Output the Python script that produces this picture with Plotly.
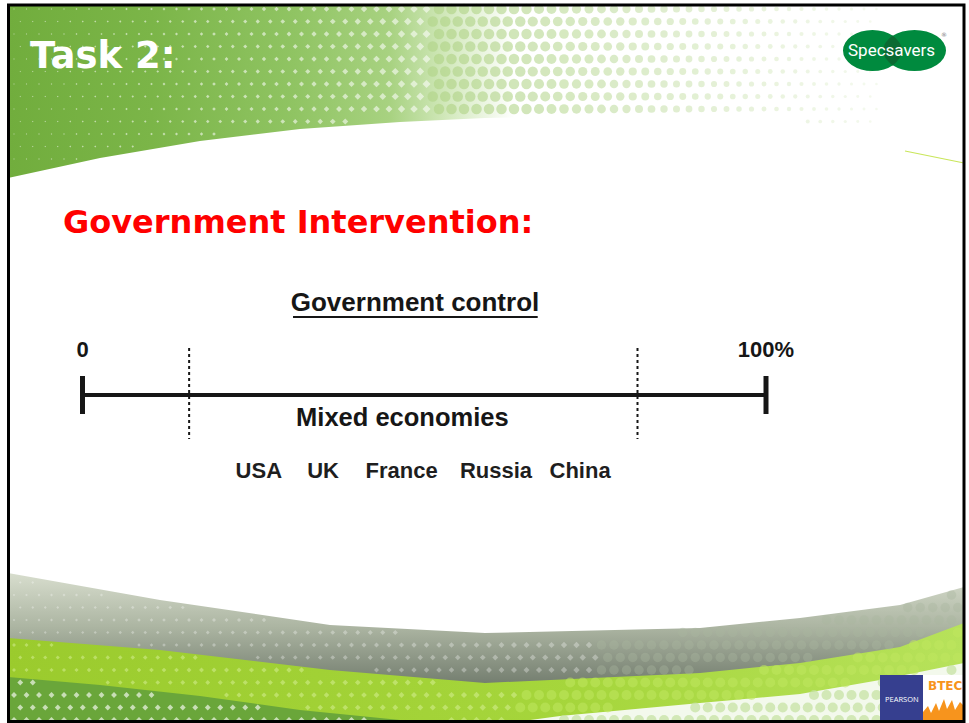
import numpy as np
import plotly.graph_objects as go

# ---------------- data ----------------
scale_ends = [0, 100]                 # % government control
scale_labels = ["0", "100%"]
mixed_bounds = [15.6, 81.2]           # dotted limits of the mixed-economy zone
mixed_label = ["Mixed economies"]
mixed_label_pos = [46.8]
countries = ["USA", "UK", "France", "Russia", "China"]
country_pos = [25.8, 35.2, 46.7, 60.5, 72.8]
axis_title = ["Government control"]
axis_title_pos = [48.65]
slide_title = "Task 2:"
heading = "Government Intervention:"

# ---------------- geometry / style ----------------
W, H = 969, 723
PX0, PXS = 82.5, 6.835          # pixel of 0 %, pixels per percentage point
TXT = "#161616"
ARIAL = "Liberation Sans, Arial, sans-serif"
VERD = "DejaVu Sans, Verdana, sans-serif"


def hx(c):
    c = c.lstrip("#")
    return np.array([int(c[i:i + 2], 16) for i in (0, 2, 4)], float)


def mix(c1, c2, t):
    t = min(max(t, 0.0), 1.0)
    v = hx(c1) * (1 - t) + hx(c2) * t
    return "#%02x%02x%02x" % tuple(int(round(a)) for a in v)


# background band outlines (pixels)
TOP_X = [8, 100, 200, 300, 400, 485, 600, 700, 800, 900, 964]
TOP_Y = [178, 158, 141, 129, 122, 118, 116, 118, 125, 137, 148]
GRAY_X = [8, 160, 330, 485, 700, 800, 900, 964]
GRAY_Y = [573, 600, 625, 633, 628, 618, 605, 587]
LIME_Y = [638, 650, 670, 683, 673, 663, 647, 623]
DK_X = [8, 100, 200, 300, 400, 485, 530]
DK_Y = [677, 685, 696, 710, 720, 726, 732]
WR_X = [470, 560, 700, 800, 880, 964]
WR_Y = [728, 716, 703, 694, 680, 663]

fig = go.Figure()


def poly(xs, ys, **kw):
    fig.add_trace(go.Scatter(x=xs, y=ys, xaxis="x", yaxis="y", mode="lines",
                             fill="toself", line=dict(width=0),
                             hoverinfo="skip", showlegend=False, **kw))


# top green swoosh
tx = [8, 964] + TOP_X[::-1]
ty = [5, 5] + TOP_Y[::-1]
poly(tx, ty, fillgradient=dict(type="horizontal", start=8, stop=964, colorscale=[
    [0.0, "#71ad3d"], [0.15, "#7bb548"], [0.30, "#90c463"], [0.40, "#a8d281"],
    [0.46, "#d3e9bd"], [0.53, "#ffffff"], [1.0, "#ffffff"]]))

# bottom bands
poly(GRAY_X + [964, 8], GRAY_Y + [723, 723],
     fillgradient=dict(type="vertical", start=575, stop=690, colorscale=[
         [0, "#d6dccc"], [0.45, "#acb5a2"], [1, "#6e786a"]]))
poly(GRAY_X + [964, 8], LIME_Y + [723, 723],
     fillgradient=dict(type="horizontal", start=8, stop=964, colorscale=[
         [0, "#9bcb2d"], [0.6, "#a6d63c"], [1, "#b7e25b"]]))
poly(DK_X + [530, 8], DK_Y + [723, 723], fillcolor="#6aa63a")
poly(WR_X + [964, 470], WR_Y + [723, 723], fillcolor="#f3f9ec")

# halftone texture
step = 12.5
px, py, ps, pc, psym = [], [], [], [], []
for j, y in enumerate(np.arange(9, 185, step)):
    off = step / 2 if j % 2 else 0
    for x in np.arange(14 + off, 960, step):
        b = np.interp(x, TOP_X, TOP_Y)
        if y > b - 4:
            continue
        if x < 432:
            s = np.interp(x, [20, 150, 300, 432], [1.0, 2.0, 3.8, 6.2])
            px.append(x); py.append(y); ps.append(s)
            pc.append("rgba(255,255,255,0.8)"); psym.append("diamond")
        elif x < 880:
            s = np.interp(x, [432, 520, 640, 760, 880], [10.5, 10.5, 8, 5, 2.5])
            px.append(x); py.append(y); ps.append(s)
            pc.append(mix("#b3d58b", "#f0f7e8", (x - 440) / 440)); psym.append("circle")
for j, y in enumerate(np.arange(570, 722, step)):
    off = step / 2 if j % 2 else 0
    for x in np.arange(14 + off, 962, step):
        g = np.interp(x, GRAY_X, GRAY_Y)
        lm = np.interp(x, GRAY_X, LIME_Y)
        d = np.interp(x, DK_X, DK_Y)
        w = np.interp(x, WR_X, WR_Y) if x >= 470 else 9999
        if y < g + 4:
            continue
        if y < lm - 3:
            if x < 600:
                px.append(x); py.append(y); ps.append(np.interp(x, [10, 600], [2, 5]))
                pc.append("rgba(255,255,255,0.45)"); psym.append("diamond")
            else:
                px.append(x); py.append(y); ps.append(9.5)
                pc.append("rgba(170,182,160,0.55)"); psym.append("circle")
        elif lm + 3 < y < min(d, w) - 3:
            if x < 520:
                px.append(x); py.append(y); ps.append(np.interp(x, [10, 520], [3, 5]))
                pc.append("rgba(215,240,150,0.75)"); psym.append("diamond")
            else:
                px.append(x); py.append(y); ps.append(10)
                pc.append("rgba(190,230,95,0.8)"); psym.append("circle")
        elif y > d + 3 and x < 500:
            px.append(x); py.append(y); ps.append(4.5)
            pc.append("rgba(255,255,255,0.9)"); psym.append("diamond")
        elif y > w + 3:
            px.append(x); py.append(y); ps.append(10)
            pc.append("#c3e1a0"); psym.append("circle")

fig.add_trace(go.Scatter(x=px, y=py, xaxis="x", yaxis="y", mode="markers",
                         marker=dict(size=ps, color=pc, symbol=psym, line=dict(width=0)),
                         hoverinfo="skip", showlegend=False))

# thin lime streak top right
fig.add_trace(go.Scatter(x=[905, 964], y=[151, 163], xaxis="x", yaxis="y", mode="lines",
                         line=dict(color="#c9e65a", width=1.2), hoverinfo="skip",
                         showlegend=False))

# ---------------- diagram (percentage axis x2) ----------------
def pct(**kw):
    fig.add_trace(go.Scatter(xaxis="x2", yaxis="y", hoverinfo="skip", showlegend=False, **kw))


pct(x=scale_ends, y=[395, 395], mode="lines", line=dict(color=TXT, width=4))
pct(x=[scale_ends[0], scale_ends[0], None, scale_ends[1], scale_ends[1]],
    y=[376, 414, None, 376, 414], mode="lines", line=dict(color=TXT, width=5))
pct(x=[mixed_bounds[0], mixed_bounds[0], None, mixed_bounds[1], mixed_bounds[1]],
    y=[348, 439, None, 348, 439], mode="lines",
    line=dict(color=TXT, width=2, dash="3px,3px"))
pct(x=scale_ends, y=[351, 351], mode="text", text=scale_labels,
    textfont=dict(family=ARIAL, size=22, color=TXT, weight="bold"))
pct(x=axis_title_pos, y=[304], mode="text", text=axis_title,
    textfont=dict(family=ARIAL, size=26, color=TXT, weight="bold"))
pct(x=mixed_label_pos, y=[419.5], mode="text", text=mixed_label,
    textfont=dict(family=ARIAL, size=25.5, color=TXT, weight="bold"))
pct(x=country_pos, y=[472] * len(countries), mode="text", text=countries,
    textfont=dict(family=ARIAL, size=22, color="#1e1e1e", weight="bold"))

shapes = [
    # underline of the axis title
    dict(type="line", xref="x2", yref="y", x0=30.8, x1=66.6, y0=317, y1=317,
         line=dict(color=TXT, width=2)),
    # Specsavers logo
    dict(type="circle", xref="x", yref="y", x0=843, x1=902, y0=30, y1=71,
         fillcolor="#008a3e", line=dict(width=0)),
    dict(type="circle", xref="x", yref="y", x0=883, x1=946, y0=30, y1=71,
         fillcolor="#008a3e", line=dict(width=0)),
    dict(type="path", xref="x", yref="y",
         path="M 892.7,35.6 Q 873.3,50.5 892.7,65.4 Q 911.3,50.5 892.7,35.6 Z",
         fillcolor="#0b6a32", line=dict(width=0)),
    # Pearson / BTEC
    dict(type="rect", xref="x", yref="y", x0=880, x1=923, y0=675, y1=721,
         fillcolor="#363f8f", line=dict(width=0)),
    dict(type="rect", xref="x", yref="y", x0=923, x1=964, y0=675, y1=721,
         fillcolor="#ffffff", line=dict(width=0)),
    dict(type="path", xref="x", yref="y",
         path="M 923,721 L 923,712 L 928,706 L 931,713 L 936,703 L 939,711 L 944,699 "
              "L 947,709 L 952,700 L 955,710 L 960,702 L 964,706 L 964,721 Z",
         fillcolor="#f7941d", line=dict(width=0)),
    # slide frame
    dict(type="rect", xref="x", yref="y", x0=8.5, x1=964, y0=5, y1=721.5,
         line=dict(color="#000000", width=3), fillcolor="rgba(0,0,0,0)"),
]

annotations = [
    dict(x=28, y=55, xref="x", yref="y", text=slide_title, showarrow=False,
         xanchor="left", yanchor="middle",
         font=dict(family=VERD, size=37, color="#ffffff", weight="bold")),
    dict(x=61, y=222, xref="x", yref="y", text=heading, showarrow=False,
         xanchor="left", yanchor="middle",
         font=dict(family=VERD, size=32, color="#ff0000", weight="bold")),
    dict(x=891, y=50, xref="x", yref="y", text="Specsavers", showarrow=False,
         xanchor="center", yanchor="middle",
         font=dict(family="Roboto, sans-serif", size=17, color="#ffffff")),
    dict(x=944, y=34, xref="x", yref="y", text="®", showarrow=False,
         font=dict(family="DejaVu Sans", size=6, color="#777777")),
    dict(x=901.5, y=699, xref="x", yref="y", text="PEARSON", showarrow=False,
         font=dict(family="Open Sans, sans-serif", size=7.5, color="#ffffff")),
    dict(x=945, y=686, xref="x", yref="y", text="BTEC", showarrow=False,
         font=dict(family=VERD, size=12, color="#f7941d", weight="bold")),
]

fig.update_layout(
    width=W, height=H, margin=dict(l=0, r=0, t=0, b=0),
    paper_bgcolor="#ffffff", plot_bgcolor="#ffffff",
    hovermode=False, showlegend=False,
    xaxis=dict(range=[0, W], visible=False, fixedrange=True),
    xaxis2=dict(range=[-PX0 / PXS, (W - PX0) / PXS], overlaying="x",
                visible=False, fixedrange=True),
    yaxis=dict(range=[H, 0], visible=False, fixedrange=True),
    shapes=shapes, annotations=annotations,
)

fig.write_html("out.html", config={"displayModeBar": False},
               post_script="document.body.style.margin='0';document.body.style.padding='0';")
